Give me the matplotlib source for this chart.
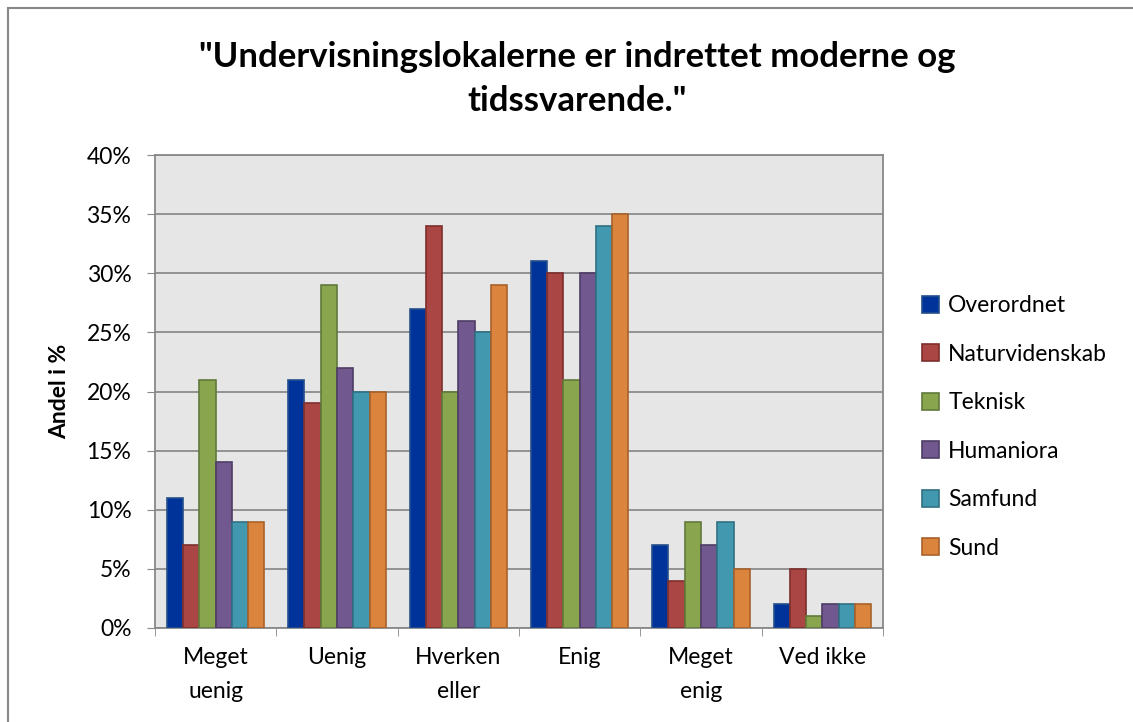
import numpy as np
import matplotlib.pyplot as plt
from matplotlib.patches import Rectangle

categories = ["Meget\nuenig", "Uenig", "Hverken\neller", "Enig", "Meget\nenig", "Ved ikke"]
series_names = ["Overordnet", "Naturvidenskab", "Teknisk", "Humaniora", "Samfund", "Sund"]
overordnet = [11, 21, 27, 31, 7, 2]
naturvidenskab = [7, 19, 34, 30, 4, 5]
teknisk = [21, 29, 20, 21, 9, 1]
humaniora = [14, 22, 26, 30, 7, 2]
samfund = [9, 20, 25, 34, 9, 2]
sund = [9, 20, 29, 35, 5, 2]
yticks = [0, 5, 10, 15, 20, 25, 30, 35, 40]

fills = ["#003399", "#AA4643", "#89A54E", "#71588F", "#4198AF", "#DB843D"]
edges = ["#234f8a", "#7d2f2d", "#61793a", "#4e3d66", "#2f7184", "#a8622a"]

plt.rcParams["font.family"] = ["Lato", "DejaVu Sans"]

fig = plt.figure(figsize=(11.33, 7.22), dpi=100)
fig.patches.append(Rectangle((8 / 1133, -0.01), 1.2, 1 - 8 / 722 + 0.01, transform=fig.transFigure,
                             fill=False, edgecolor="#888888", linewidth=1.5))
ax = fig.add_axes([155 / 1133, 1 - 628 / 722, (883 - 155) / 1133, (628 - 155) / 722])
ax.set_facecolor("#E6E6E6")

data = [overordnet, naturvidenskab, teknisk, humaniora, samfund, sund]
x = np.arange(len(categories))
w = 0.134
for i, (name, vals) in enumerate(zip(series_names, data)):
    ax.bar(x + (i - 2.5) * w, vals, width=w, color=fills[i], edgecolor=edges[i],
           linewidth=1.2, label=name, zorder=3)

ax.set_xlim(-0.5, len(categories) - 0.5)
ax.set_ylim(0, 40)
ax.set_yticks(yticks)
ax.set_yticklabels([f"{t}%" for t in yticks], fontsize=16.5)
ax.set_xticks(x)
ax.set_xticklabels(categories, fontsize=16.5, linespacing=1.75, va="top")
ax.set_xticks(np.arange(-0.5, len(categories)), minor=True)
ax.tick_params(axis="x", which="major", length=0, pad=14)
ax.tick_params(axis="x", which="minor", length=6, color="#888888")
ax.tick_params(axis="y", length=6, color="#888888", pad=11)
ax.grid(axis="y", color="#8C8C8C", linewidth=1.3, zorder=0)
for s in ax.spines.values():
    s.set_color("#888888")
    s.set_linewidth(1.3)

ax.set_ylabel("Andel i %", fontsize=16.5, fontweight="bold", labelpad=12)
fig.text(577 / 1133, 1 - 79 / 722, "\"Undervisningslokalerne er indrettet moderne og\ntidssvarende.\"",
         ha="center", va="center", fontsize=25, fontweight="bold", linespacing=1.45)

ax.legend(loc="center left", bbox_to_anchor=(1.025, 0.425), frameon=False, fontsize=16.5,
          handlelength=0.75, handleheight=0.75, labelspacing=1.2, handletextpad=0.4)

fig.savefig("out.png", dpi=100)
